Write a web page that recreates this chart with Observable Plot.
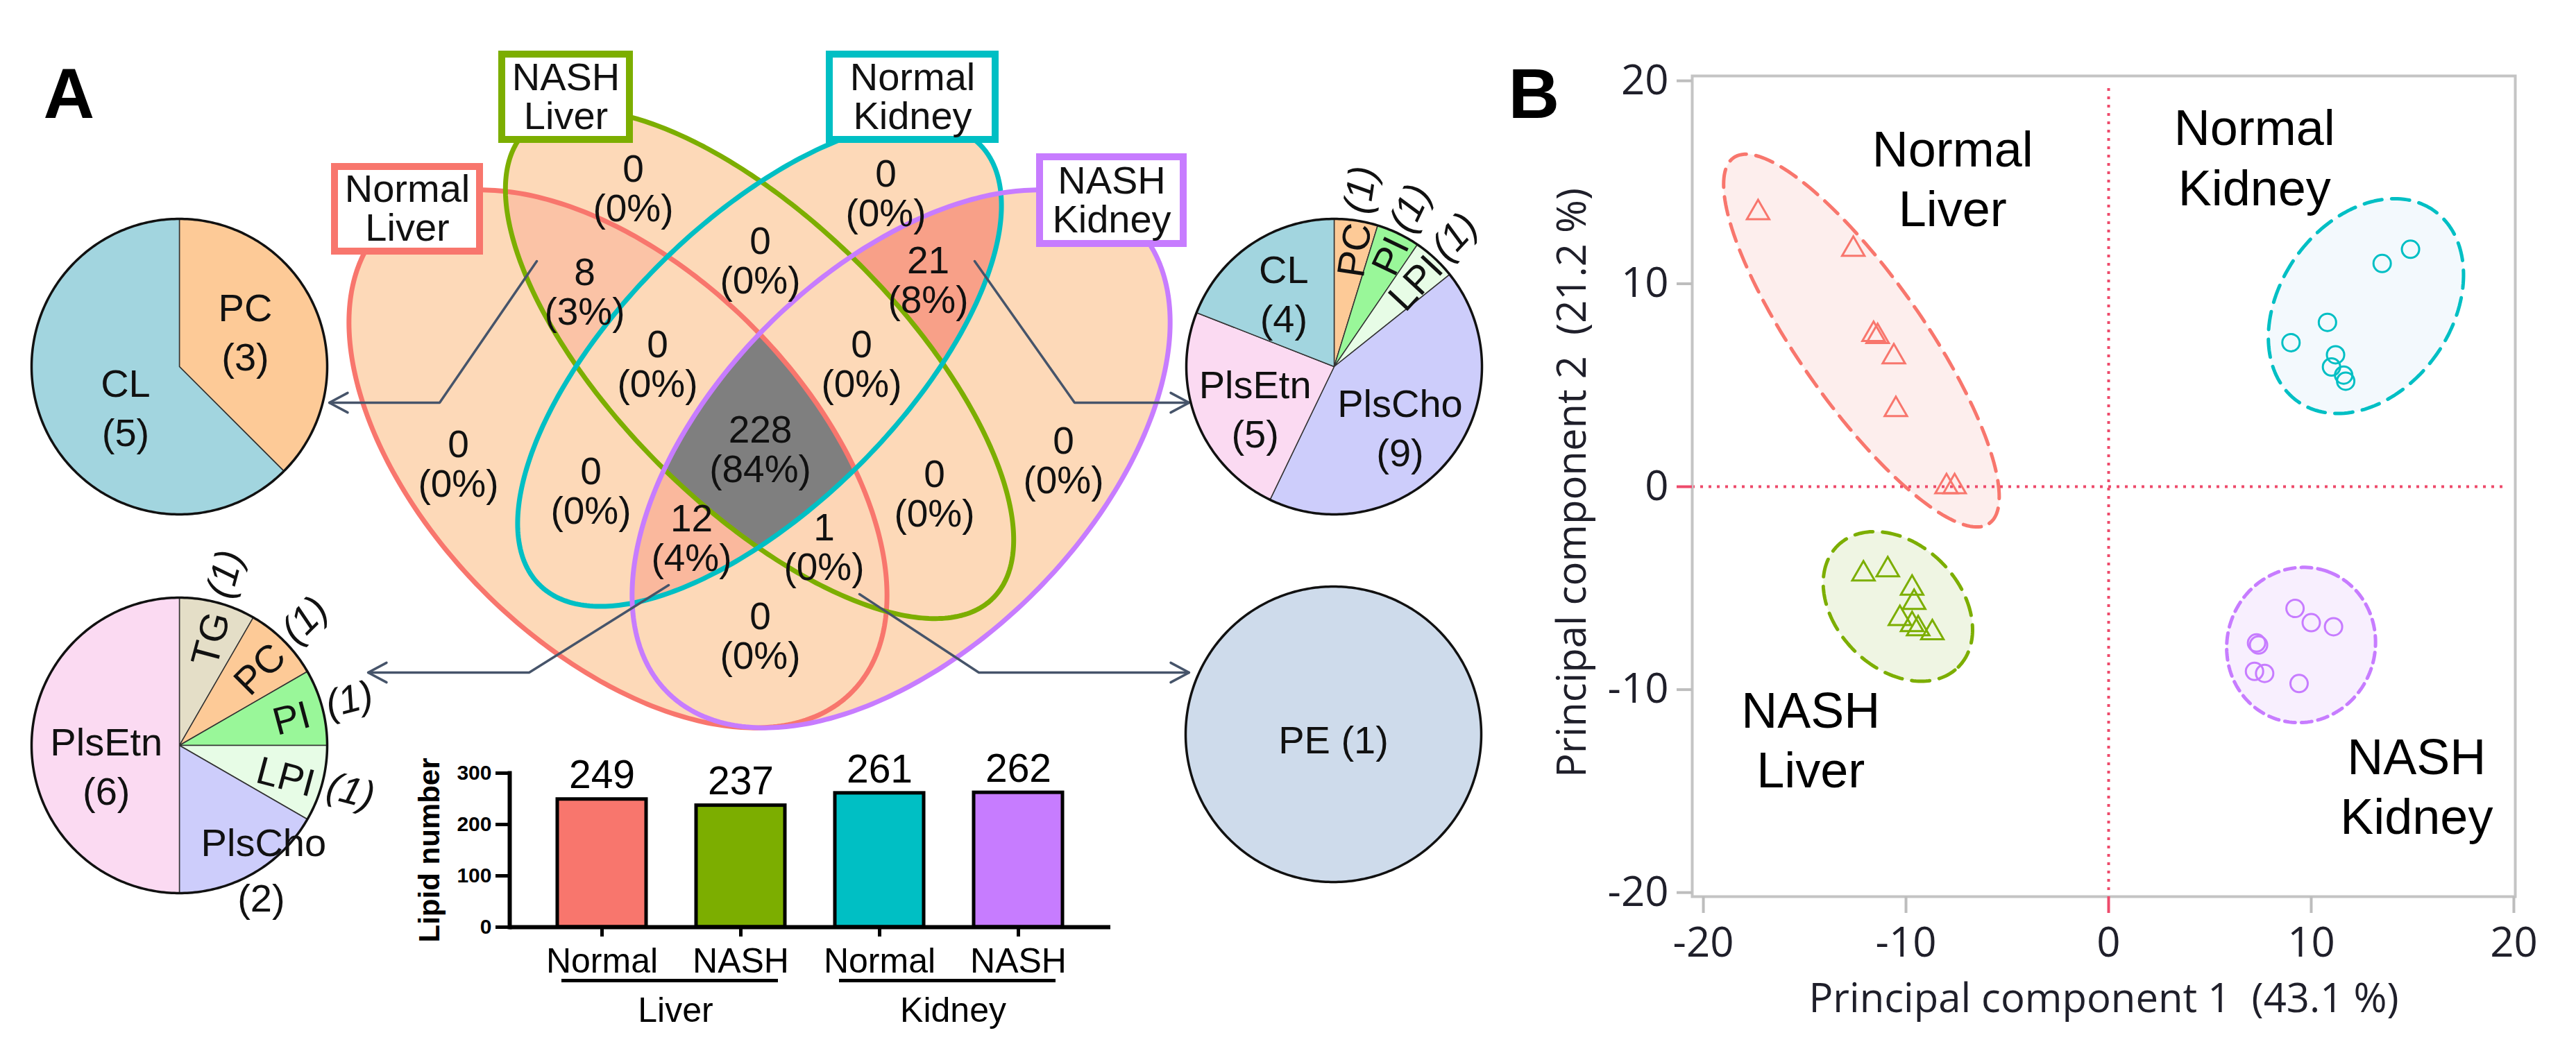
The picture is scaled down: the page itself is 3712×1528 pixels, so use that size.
<!DOCTYPE html>
<html><head><meta charset="utf-8">
<script src="https://cdn.jsdelivr.net/npm/d3@7"></script>
<script src="https://cdn.jsdelivr.net/npm/@observablehq/plot@0.6"></script>
<style>
html,body{margin:0;padding:0;background:#fff;}
#fig{position:relative;width:3712px;height:1528px;overflow:hidden;background:#fff;}
</style></head><body><div id="fig"></div>
<script>
// ================= DATA =================
// Panel A – Venn diagram
const setNames = ["Normal Liver", "NASH Liver", "Normal Kidney", "NASH Kidney"];
const regionCodes  = ["1000","0100","0010","0001","1100","0110","0011","1010","0101","1001","1110","0111","1011","1101","1111"];
const regionCounts = [0, 0, 0, 0, 8, 0, 21, 0, 0, 0, 0, 0, 12, 1, 228];

// Panel A – bar chart
const barCategories = ["Normal Liver", "NASH Liver", "Normal Kidney", "NASH Kidney"];
const barValues = [249, 237, 261, 262];
const barTicks = [0, 100, 200, 300];
const barGroups = ["Liver", "Kidney"];

// Panel A – pies
const pie8Classes  = ["PC", "CL"];                                 const pie8Counts  = [3, 5];
const pie12Classes = ["TG", "PC", "PI", "LPI", "PlsCho", "PlsEtn"]; const pie12Counts = [1, 1, 1, 1, 2, 6];
const pie21Classes = ["PC", "PI", "LPI", "PlsCho", "PlsEtn", "CL"]; const pie21Counts = [1, 1, 1, 9, 5, 4];
const pie1Classes  = ["PE"];                                       const pie1Counts  = [1];

// Panel B – PCA scores
const pcaGroups = ["Normal Liver", "NASH Liver", "Normal Kidney", "NASH Kidney"];
const pc1NormalLiver  = [-17.3, -12.6, -11.6, -11.4, -10.6, -10.5, -8.0, -7.6];
const pc2NormalLiver  = [13.5, 11.7, 7.5, 7.4, 6.4, 3.8, 0.0, 0.0];
const pc1NashLiver    = [-12.1, -10.9, -9.7, -9.6, -10.3, -9.7, -9.4, -8.7];
const pc2NashLiver    = [-4.3, -4.1, -5.0, -5.7, -6.5, -6.8, -7.0, -7.2];
const pc1NormalKidney = [9.0, 10.8, 13.5, 14.9, 11.2, 11.0, 11.6, 11.7];
const pc2NormalKidney = [7.1, 8.1, 11.0, 11.7, 6.5, 5.9, 5.5, 5.2];
const pc1NashKidney   = [9.2, 10.0, 11.1, 7.3, 7.4, 7.2, 7.7, 9.4];
const pc2NashKidney   = [-6.0, -6.7, -6.9, -7.7, -7.8, -9.1, -9.2, -9.7];
// group confidence ellipses (centre, semi-axes, angle in degrees)
const ellCx = [-12.2, -10.4, 12.7, 9.5];
const ellCy = [7.2, -5.9, 8.9, -7.8];
const ellA  = [11.0, 4.22, 5.78, 3.85];
const ellB  = [3.1, 3.06, 4.22, 3.65];
const ellAngle = [-55, -45, 54, 70];
const pcaTicks = [-20, -10, 0, 10, 20];
const pcaXLabel = "Principal component 1  (43.1 %)";
const pcaYLabel = "Principal component 2  (21.2 %)";

// ================= STYLE / LAYOUT =================
const ARIAL = "'Liberation Sans', Arial, Helvetica, sans-serif";
const SEGOE = "'Open Sans', 'Noto Sans', sans-serif";
const setColors = ["#F8766D", "#7CAE00", "#00BFC4", "#C77CFF"];
const ellFill = ["#fdeeed", "#eff5e3", "#f3f9fd", "#f8effe"];
const classColors = {CL: "#a2d5df", PC: "#fdca97", PI: "#99f799", LPI: "#e7fce6", PlsCho: "#cdcdfb",
                     PlsEtn: "#fbdaf2", TG: "#e4dec7", PE: "#cedbeb"};
const refRed = "#ee4a6b";

// Venn geometry (ggVennDiagram 4-set ellipses, unit coords) and its pixel mapping
const vennShapes = [[0.35, 0.47, 0.35, 0.20, 135], [0.50, 0.57, 0.35, 0.15, 135],
                    [0.50, 0.57, 0.33, 0.15, 45], [0.65, 0.47, 0.35, 0.20, 45]];
const VS = 1360, VOX = 414, VOY = 1300.2;
const vennLabelPos = {
  "1000": [660, 669], "0100": [912, 272], "0010": [1276, 279], "0001": [1532, 664],
  "1100": [842, 421], "0110": [1095, 376], "0011": [1337, 404], "1010": [851, 708],
  "0101": [1346, 712], "1001": [1095, 917], "1110": [947, 525], "0111": [1241, 525],
  "1011": [996, 776], "1101": [1187, 789], "1111": [1095, 648]
};
const setBoxes = [[482, 691, 240, 362], [723, 907, 78, 201], [1195, 1434, 78, 201], [1498, 1705, 226, 351]];
const arrowPaths = [
  [[773, 376], [633, 580], [474, 580]],
  [[1404, 376], [1548, 580], [1713, 580]],
  [[963, 843], [762, 969], [530, 969]],
  [[1238, 856], [1410, 969], [1713, 969]]
];
const PIE_R = 213;
const pieLayouts = [
  {classes: pie8Classes, counts: pie8Counts, cx: 258, cy: 528, labels: {
    PC: {mode: "stack", rf: 0.51, ang: 61}, CL: {mode: "stack", rf: 0.45, ang: 234}}},
  {classes: pie12Classes, counts: pie12Counts, cx: 258, cy: 1074, labels: {
    TG: {mode: "radial", rin: 0.75, rout: 1.2}, PC: {mode: "radial", rin: 0.75, rout: 1.2},
    PI: {mode: "radial", rin: 0.78, rout: 1.19}, LPI: {mode: "radial", rin: 0.75, rout: 1.2},
    PlsCho: {mode: "split", rin: 0.86, angIn: 138.5, rout: 1.16, angOut: 151.5},
    PlsEtn: {mode: "stack", rf: 0.51, ang: 255.6}}},
  {classes: pie21Classes, counts: pie21Counts, cx: 1922, cy: 528, labels: {
    PC: {mode: "radial", rin: 0.8, rout: 1.21}, PI: {mode: "radial", rin: 0.84, rout: 1.19},
    LPI: {mode: "radial", rin: 0.79, rout: 1.2},
    PlsCho: {mode: "stack", rf: 0.6, ang: 132}, PlsEtn: {mode: "stack", rf: 0.6, ang: 243},
    CL: {mode: "stack", rf: 0.61, ang: 326}}},
  {classes: pie1Classes, counts: pie1Counts, cx: 1921, cy: 1058, labels: {
    PE: {mode: "inline", rf: 0.02, ang: 180}}}
];

// ================= HELPERS =================
const rad = (d) => d * Math.PI / 180;
const shapeTrig = vennShapes.map(([cx, cy, a, b, r]) => ({cx, cy, a, b, c: Math.cos(rad(r)), s: Math.sin(rad(r))}));
function vennCode(px, py) {
  const u = (px - VOX) / VS, v = (VOY - py) / VS;
  let code = "";
  for (const e of shapeTrig) {
    const dx = u - e.cx, dy = v - e.cy;
    const xr = dx * e.c + dy * e.s, yr = -dx * e.s + dy * e.c;
    code += (xr / e.a) ** 2 + (yr / e.b) ** 2 <= 1 ? "1" : "0";
  }
  return code;
}
const countByCode = new Map(regionCodes.map((c, i) => [c, regionCounts[i]]));
const regionColor = d3.scaleLinear().domain([0, 21]).range(["#fdd9b8", "#f8a088"]).clamp(true);
function vennFill(x, y) {
  const code = vennCode(x, y);
  if (code === "0000") return null;
  const n = countByCode.get(code) ?? 0;
  return n > 21 ? "#7f7f7f" : regionColor(n);
}
const vennOutline = vennShapes.flatMap(([cx, cy, a, b, r], id) => d3.range(0, 361, 1).map(k => {
  const t = rad(k), c = Math.cos(rad(r)), s = Math.sin(rad(r));
  const u = cx + a * Math.cos(t) * c - b * Math.sin(t) * s;
  const v = cy + a * Math.cos(t) * s + b * Math.sin(t) * c;
  return {id, x: VOX + VS * u, y: VOY - VS * v, color: setColors[id]};
}));
const total = d3.sum(regionCounts);
const vennLabels = regionCodes.map((c, i) => ({
  x: vennLabelPos[c][0], y: vennLabelPos[c][1],
  text: `${regionCounts[i]}\n(${Math.round(regionCounts[i] / total * 100)}%)`
}));
const boxData = setNames.map((n, i) => ({
  x1: setBoxes[i][0], x2: setBoxes[i][1], y1: setBoxes[i][2], y2: setBoxes[i][3],
  color: setColors[i], text: n.replace(" ", "\n"),
  cx: (setBoxes[i][0] + setBoxes[i][1]) / 2, cy: (setBoxes[i][2] + setBoxes[i][3]) / 2
}));
function arrowHead(pts, len = 30, ang = 28) {
  const [px, py] = pts[pts.length - 2], [ex, ey] = pts[pts.length - 1];
  const d = Math.hypot(ex - px, ey - py), ux = (ex - px) / d, uy = (ey - py) / d;
  const rot = (a) => [ux * Math.cos(a) - uy * Math.sin(a), ux * Math.sin(a) + uy * Math.cos(a)];
  const [r1x, r1y] = rot(rad(ang)), [r2x, r2y] = rot(rad(-ang));
  return [[ex - len * r1x, ey - len * r1y], [ex, ey], [ex - len * r2x, ey - len * r2y]];
}
const arrowData = arrowPaths.flatMap((p, i) => [
  ...p.map(([x, y]) => ({id: "a" + i, x, y})),
  ...arrowHead(p).map(([x, y]) => ({id: "h" + i, x, y}))
]);
// pies
const pieSlices = [], pieRims = [], pieLabels = [];
pieLayouts.forEach((P, pi) => {
  const tot = d3.sum(P.counts); let acc = 0;
  const polar = (rf, ang) => [P.cx + rf * PIE_R * Math.sin(rad(ang)), P.cy - rf * PIE_R * Math.cos(rad(ang))];
  P.classes.forEach((cls, i) => {
    const a0 = acc / tot * 360, a1 = (acc + P.counts[i]) / tot * 360; acc += P.counts[i];
    const full = a1 - a0 >= 359.99, id = `p${pi}-${i}`;
    const n = Math.max(2, Math.ceil(a1 - a0));
    if (!full) pieSlices.push({id, x: P.cx, y: P.cy, fill: classColors[cls]});
    for (let k = 0; k <= n; k++) {
      const [x, y] = polar(1, a0 + (a1 - a0) * k / n);
      pieSlices.push({id, x, y, fill: classColors[cls]});
    }
    if (!full) pieSlices.push({id, x: P.cx, y: P.cy, fill: classColors[cls]});
    const L = P.labels[cls], mid = (a0 + a1) / 2, cnt = `(${P.counts[i]})`;
    if (L.mode === "stack") {
      const [x, y] = polar(L.rf, L.ang);
      pieLabels.push({x, y, text: `${cls}\n${cnt}`, rotate: 0, style: "normal"});
    } else if (L.mode === "inline") {
      const [x, y] = polar(L.rf, L.ang);
      pieLabels.push({x, y, text: `${cls} ${cnt}`, rotate: 0, style: "normal"});
    } else if (L.mode === "radial") {
      const [x1, y1] = polar(L.rin, mid), [x2, y2] = polar(L.rout, mid);
      pieLabels.push({x: x1, y: y1, text: cls, rotate: mid - 90, style: "normal"});
      pieLabels.push({x: x2, y: y2, text: cnt, rotate: mid - 90, style: "italic"});
    } else {
      const [x1, y1] = polar(L.rin, L.angIn), [x2, y2] = polar(L.rout, L.angOut);
      pieLabels.push({x: x1, y: y1, text: cls, rotate: 0, style: "normal"});
      pieLabels.push({x: x2, y: y2, text: cnt, rotate: 0, style: "normal"});
    }
  });
  d3.range(0, 361, 1).forEach(k => { const [x, y] = polar(1, k); pieRims.push({id: "r" + pi, x, y}); });
});

// ================= PANEL A (Venn + pies) =================
const fig = document.getElementById("fig");
function place(el, left, top) { el.style.position = "absolute"; el.style.left = left + "px"; el.style.top = top + "px"; fig.appendChild(el); }

const panelA = Plot.plot({
  width: 2150, height: 1528, marginTop: 0, marginRight: 0, marginBottom: 0, marginLeft: 0,
  x: {domain: [0, 2150], range: [0, 2150], axis: null},
  y: {domain: [0, 1528], range: [0, 1528], axis: null},
  color: {type: "identity"},
  style: {background: "transparent", fontFamily: ARIAL, color: "#111", overflow: "visible"},
  marks: [
    Plot.raster({fill: vennFill, x1: 490, x2: 1700, y1: 150, y2: 1070, pixelSize: 1}),
    Plot.line(vennOutline, {x: "x", y: "y", z: "id", stroke: "color", strokeWidth: 7}),
    Plot.text(vennLabels, {x: "x", y: "y", text: "text", fontSize: 55, lineHeight: 1.02, fill: "#111"}),
    Plot.line(arrowData, {x: "x", y: "y", z: "id", stroke: "#46546a", strokeWidth: 3.5, strokeLinejoin: "miter"}),
    Plot.rect(boxData, {x1: "x1", x2: "x2", y1: "y1", y2: "y2", fill: "white", stroke: "color", strokeWidth: 10}),
    Plot.text(boxData, {x: "cx", y: "cy", text: "text", fontSize: 56, lineHeight: 1.0, fill: "#111"}),
    Plot.line(pieSlices, {x: "x", y: "y", z: "id", fill: "fill", stroke: "#333", strokeWidth: 1.5}),
    Plot.line(pieRims, {x: "x", y: "y", z: "id", stroke: "#111", strokeWidth: 3.5}),
    Plot.text(pieLabels.filter(d => d.style === "normal"), {x: "x", y: "y", text: "text", rotate: "rotate", fontSize: 56, lineHeight: 1.27, fill: "#111"}),
    Plot.text(pieLabels.filter(d => d.style === "italic"), {x: "x", y: "y", text: "text", rotate: "rotate", fontSize: 56, fontStyle: "italic", fill: "#111"}),
    Plot.text(["A"], {x: () => 62, y: () => 97, text: d => d, textAnchor: "start", lineAnchor: "top", fontSize: 102, fontWeight: "bold", fill: "#000"})
  ]
});
place(panelA, 0, 0);

// ================= PANEL A (bar chart) =================
const bars = barCategories.map((c, i) => ({cat: c, value: barValues[i], color: setColors[i]}));
const groupRows = barGroups.map((g, i) => ({name: g, first: barCategories[2 * i], last: barCategories[2 * i + 1]}));
const barPlot = Plot.plot({
  width: 1060, height: 470, marginLeft: 174, marginRight: 20, marginTop: 64, marginBottom: 184,
  x: {domain: barCategories, paddingInner: 0.36, paddingOuter: 0.34, axis: null},
  y: {domain: [0, 300], axis: null},
  style: {background: "transparent", fontFamily: ARIAL, color: "#000", overflow: "visible"},
  marks: [
    Plot.barY(bars, {x: "cat", y: "value", fill: "color", stroke: "#000", strokeWidth: 5}),
    Plot.frame({anchor: "left", stroke: "#000", strokeWidth: 6}),
    Plot.ruleY([0], {stroke: "#000", strokeWidth: 6}),
    Plot.axisY(barTicks, {tickSize: 20, tickPadding: 6, strokeWidth: 5, stroke: "#000", fill: "#000", fontSize: 30, fontWeight: "bold", label: null}),
    Plot.axisX(barCategories, {tickSize: 14, tickPadding: 16, strokeWidth: 5, stroke: "#000", fill: "#000", fontSize: 50, tickFormat: d => d.split(" ")[0], label: null}),
    Plot.text(bars, {x: "cat", y: "value", text: d => String(d.value), dy: -34, fontSize: 57, fill: "#000"}),
    Plot.ruleY(groupRows, {y: () => 0, x1: "first", x2: "last", dy: 77, stroke: "#000", strokeWidth: 5, insetLeft: 6, insetRight: 10}),
    Plot.text(groupRows, {x: "first", y: () => 0, text: "name", dx: 106, dy: 120, fontSize: 50, fill: "#000"}),
    Plot.text(["Lipid number"], {frameAnchor: "left", textAnchor: "middle", text: d => d, rotate: -90, dx: -115, fontSize: 42, fontWeight: "bold", fill: "#000"})
  ]
});
place(barPlot, 560, 1050);

// ================= PANEL B (PCA) =================
const pcX = [pc1NormalLiver, pc1NashLiver, pc1NormalKidney, pc1NashKidney];
const pcY = [pc2NormalLiver, pc2NashLiver, pc2NormalKidney, pc2NashKidney];
const scores = pcaGroups.flatMap((g, gi) => pcX[gi].map((x, i) => ({group: g, gi, x, y: pcY[gi][i], color: setColors[gi]})));
const ellPts = pcaGroups.flatMap((g, gi) => d3.range(0, 361, 2).map(k => {
  const t = rad(k), c = Math.cos(rad(ellAngle[gi])), s = Math.sin(rad(ellAngle[gi]));
  return {gi, x: ellCx[gi] + ellA[gi] * Math.cos(t) * c - ellB[gi] * Math.sin(t) * s,
          y: ellCy[gi] + ellA[gi] * Math.cos(t) * s + ellB[gi] * Math.sin(t) * c,
          fill: ellFill[gi], stroke: setColors[gi]};
}));
const groupLabelPos = [[-7.7, 15.25], [-14.7, -12.4], [7.2, 16.3], [15.2, -14.7]];
const groupLabels = pcaGroups.map((g, i) => ({x: groupLabelPos[i][0], y: groupLabelPos[i][1], text: g.replace(" ", "\n")}));
const tickFmt = d => String(d);
const pca = Plot.plot({
  width: 1562, height: 1528, marginLeft: 288, marginRight: 88, marginTop: 109, marginBottom: 236,
  x: {domain: [-20.55, 20.07], axis: null},
  y: {domain: [-20.2, 20.24], axis: null},
  color: {type: "identity"},
  style: {background: "transparent", fontFamily: SEGOE, color: "#222", overflow: "visible"},
  marks: [
    Plot.line(ellPts.filter(d => d.gi < 3), {x: "x", y: "y", z: "gi", fill: "fill", stroke: "stroke", strokeWidth: 5, strokeDasharray: "26,14"}),
    Plot.line(ellPts.filter(d => d.gi === 3), {x: "x", y: "y", z: "gi", fill: "fill", stroke: "stroke", strokeWidth: 5, strokeDasharray: "15,9"}),
    Plot.ruleX([0], {stroke: refRed, strokeWidth: 4, strokeDasharray: "4,8", insetTop: 18}),
    Plot.ruleY([0], {stroke: refRed, strokeWidth: 4, strokeDasharray: "4,8", insetRight: 13}),
    Plot.frame({stroke: "#c4c4c4", strokeWidth: 4}),
    Plot.axisX(pcaTicks.filter(t => t !== 0), {tickSize: 24, tickPadding: 20, stroke: "#bdbdbd", strokeWidth: 4, fill: "#1f1f2a", fontSize: 60, tickFormat: tickFmt, label: null}),
    Plot.axisX([0], {tickSize: 24, tickPadding: 20, stroke: refRed, strokeWidth: 4, fill: "#1f1f2a", fontSize: 60, tickFormat: tickFmt, label: null}),
    Plot.axisY(pcaTicks.filter(t => t !== 0), {tickSize: 22, tickPadding: 12, stroke: "#bdbdbd", strokeWidth: 4, fill: "#1f1f2a", fontSize: 60, tickFormat: tickFmt, label: null}),
    Plot.axisY([0], {tickSize: 22, tickPadding: 12, stroke: refRed, strokeWidth: 4, fill: "#1f1f2a", fontSize: 60, tickFormat: tickFmt, label: null}),
    Plot.dot(scores.filter(d => d.group.includes("Liver")), {x: "x", y: "y", symbol: "triangle", r: 12, stroke: "color", strokeWidth: 3}),
    Plot.dot(scores.filter(d => d.group.includes("Kidney")), {x: "x", y: "y", symbol: "circle", r: 12.5, stroke: "color", strokeWidth: 3}),
    Plot.text(groupLabels, {x: "x", y: "y", text: "text", fontSize: 72, lineHeight: 1.2, fontFamily: ARIAL, fill: "#000"}),
    Plot.text([pcaXLabel], {frameAnchor: "bottom", textAnchor: "middle", text: d => d, dy: 166, fontSize: 58, fill: "#1f1f2a"}),
    Plot.text([pcaYLabel], {frameAnchor: "left", textAnchor: "middle", text: d => d, rotate: -90, dx: -172, dy: -5, fontSize: 58, fill: "#1f1f2a"}),
    Plot.text(["B"], {frameAnchor: "top-left", text: d => d, dx: -265, dy: -12, textAnchor: "start", lineAnchor: "top", fontSize: 102, fontWeight: "bold", fontFamily: ARIAL, fill: "#000"})
  ]
});
place(pca, 2150, 0);
</script></body></html>
